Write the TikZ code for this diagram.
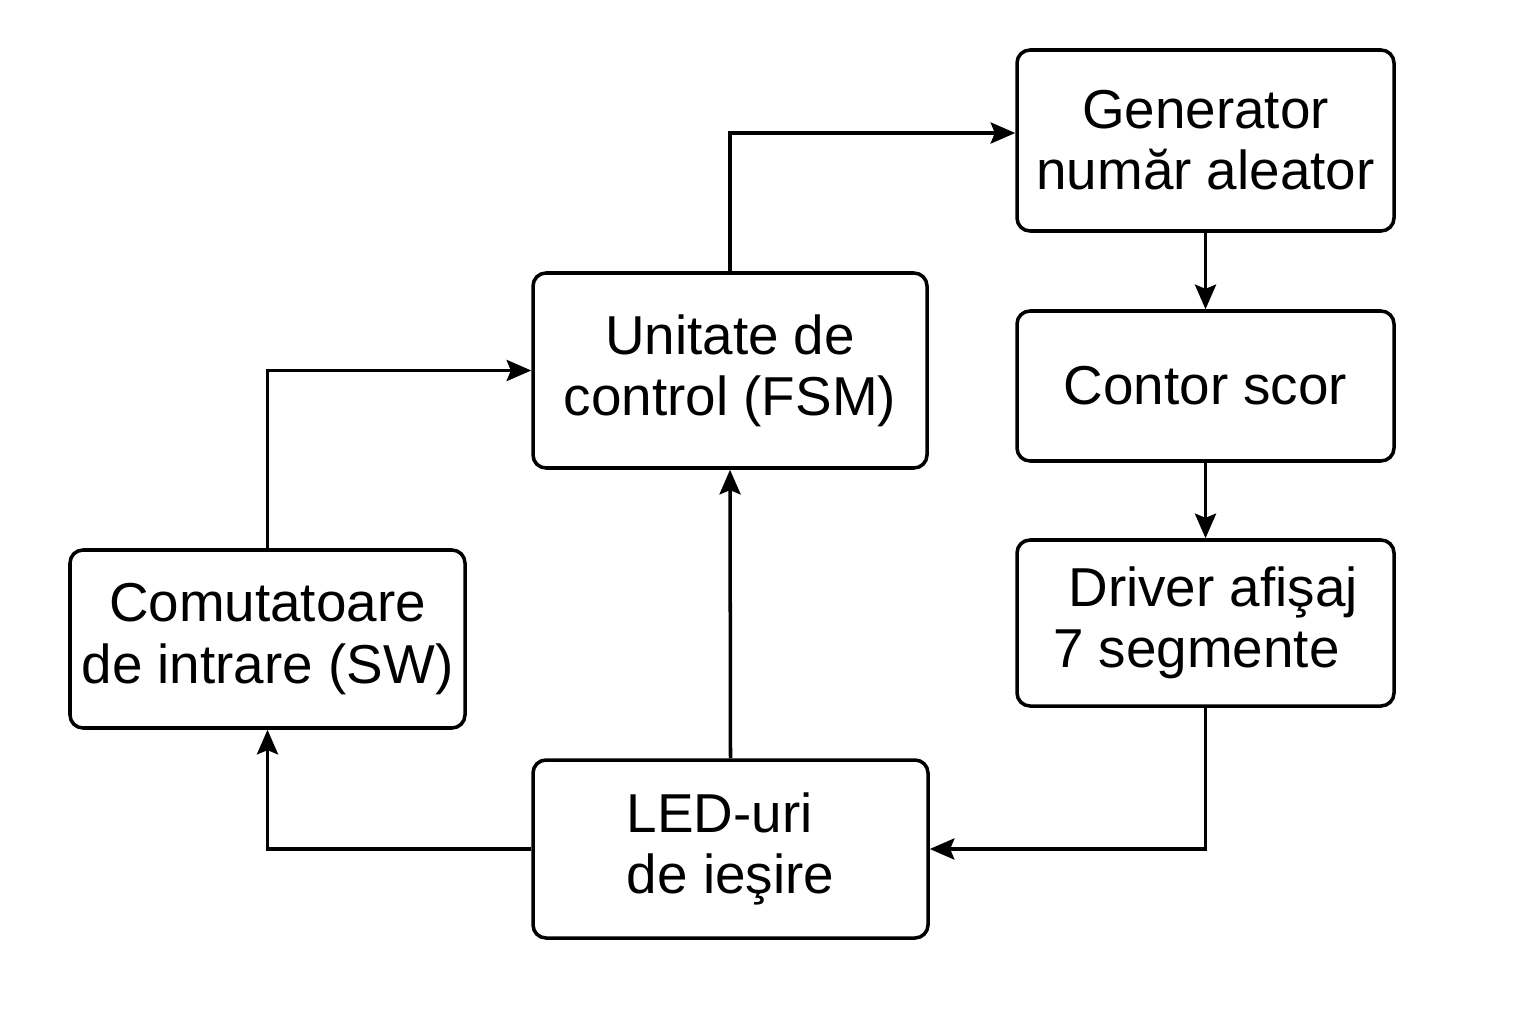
\documentclass[tikz,border=0pt]{standalone}
\usepackage{fontspec}
\setmainfont{Liberation Sans}
\usetikzlibrary{arrows.meta}

\tikzset{
	block/.style={draw, line width=1pt, rounded corners=0.13cm, align=center,
		font=\fontsize{15.6}{17.4}\selectfont, inner sep=0pt},
	flow/.style={line width=1pt, -{Stealth[length=7pt, width=6pt, inset=1.2pt]}}
}

\begin{document}
\begin{tikzpicture}
		%%%%% START %%%%%
		
		\useasboundingbox[fill=white] (0, 0) rectangle (15.36, 10.24);
		
		\node[block, minimum width=3.77cm, minimum height=1.81cm] (gen) at (12.055, 8.835) {Generator\\număr aleator};
		\node[block, minimum width=3.77cm, minimum height=1.50cm] (cnt) at (12.055, 6.38) {Contor scor};
		\node[block, minimum width=3.77cm, minimum height=1.66cm, align=left] (drv) at (12.055, 4.01) {\ Driver afişaj\\7 segmente};
		
		\node[block, minimum width=3.94cm, minimum height=1.95cm] (fsm) at (7.30, 6.535) {Unitate de\\control (FSM)};
		\node[block, minimum width=3.95cm, minimum height=1.78cm] (sw) at (2.675, 3.85) {Comutatoare\\de intrare (SW)};
		\node[block, minimum width=3.95cm, minimum height=1.78cm, align=left] (led) at (7.305, 1.75) {LED-uri\\de ieşire};
		
		\draw[flow] (fsm.north) |- ([yshift=0.75mm]gen.west);
		\draw[flow] (gen.south) -- (cnt.north);
		\draw[flow] (cnt.south) -- (drv.north);
		\draw[flow] (drv.south) |- (led.east);
		\draw[flow] (led.north) -- (fsm.south);
		\draw[flow] (led.west) -| (sw.south);
		\draw[flow] (sw.north) |- (fsm.west);
		
		%%%%% END %%%%%
	\end{tikzpicture}
\end{document}
